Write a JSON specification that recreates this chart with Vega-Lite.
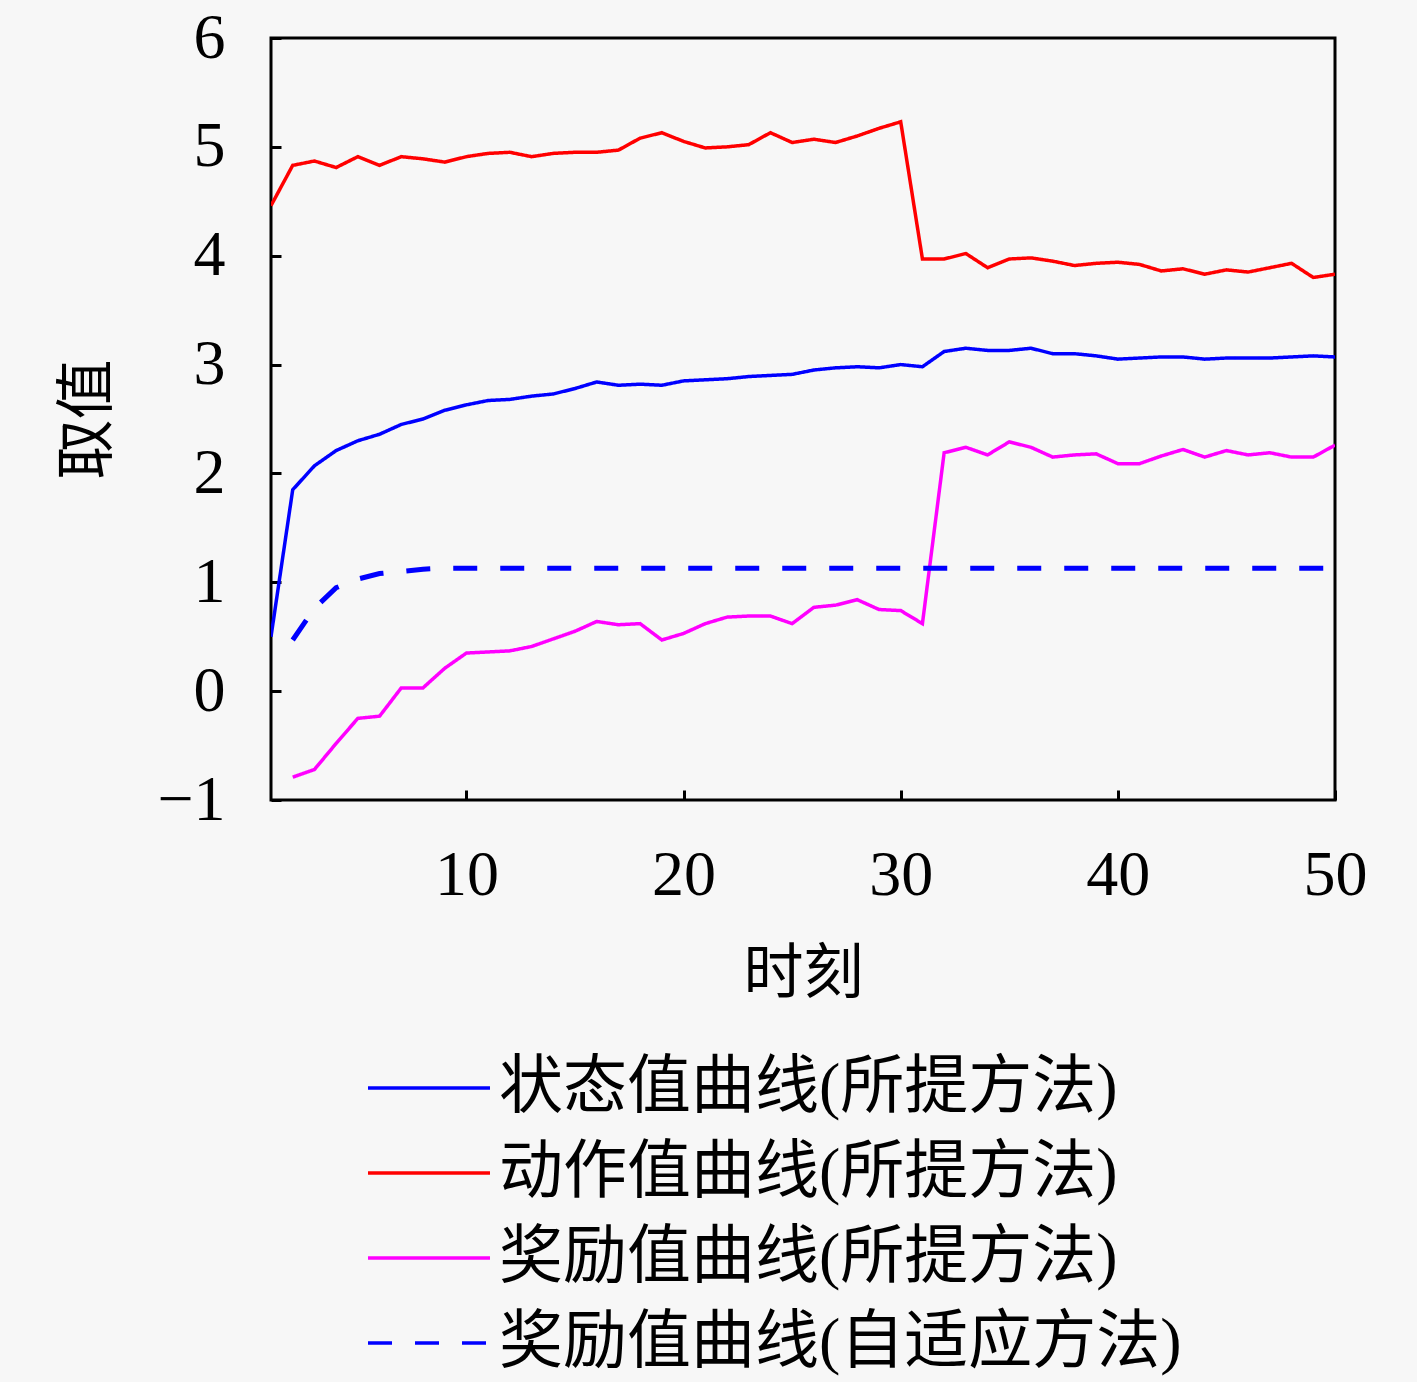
{
  "$schema": "https://vega.github.io/schema/vega-lite/v6.json",
  "width": 1064,
  "height": 762,
  "autosize": {"type": "none"},
  "padding": {"left": 271, "top": 38, "right": 82, "bottom": 582},
  "background": "#f7f7f7",
  "data": {
    "values": [
      {"t": 1, "state": 0.50, "action": 4.46, "reward": null, "adaptive": null},
      {"t": 2, "state": 1.85, "action": 4.83, "reward": -0.79, "adaptive": 0.47},
      {"t": 3, "state": 2.07, "action": 4.87, "reward": -0.72, "adaptive": 0.76},
      {"t": 4, "state": 2.21, "action": 4.81, "reward": -0.48, "adaptive": 0.95},
      {"t": 5, "state": 2.30, "action": 4.91, "reward": -0.25, "adaptive": 1.03},
      {"t": 6, "state": 2.36, "action": 4.83, "reward": -0.23, "adaptive": 1.08},
      {"t": 7, "state": 2.45, "action": 4.91, "reward": 0.03, "adaptive": 1.10},
      {"t": 8, "state": 2.50, "action": 4.89, "reward": 0.03, "adaptive": 1.12},
      {"t": 9, "state": 2.58, "action": 4.86, "reward": 0.21, "adaptive": 1.13},
      {"t": 10, "state": 2.63, "action": 4.91, "reward": 0.35, "adaptive": 1.13},
      {"t": 11, "state": 2.67, "action": 4.94, "reward": 0.36, "adaptive": 1.13},
      {"t": 12, "state": 2.68, "action": 4.95, "reward": 0.37, "adaptive": 1.13},
      {"t": 13, "state": 2.71, "action": 4.91, "reward": 0.41, "adaptive": 1.13},
      {"t": 14, "state": 2.73, "action": 4.94, "reward": 0.48, "adaptive": 1.13},
      {"t": 15, "state": 2.78, "action": 4.95, "reward": 0.55, "adaptive": 1.13},
      {"t": 16, "state": 2.84, "action": 4.95, "reward": 0.64, "adaptive": 1.13},
      {"t": 17, "state": 2.81, "action": 4.97, "reward": 0.61, "adaptive": 1.13},
      {"t": 18, "state": 2.82, "action": 5.08, "reward": 0.62, "adaptive": 1.13},
      {"t": 19, "state": 2.81, "action": 5.13, "reward": 0.47, "adaptive": 1.13},
      {"t": 20, "state": 2.85, "action": 5.05, "reward": 0.53, "adaptive": 1.13},
      {"t": 21, "state": 2.86, "action": 4.99, "reward": 0.62, "adaptive": 1.13},
      {"t": 22, "state": 2.87, "action": 5.00, "reward": 0.68, "adaptive": 1.13},
      {"t": 23, "state": 2.89, "action": 5.02, "reward": 0.69, "adaptive": 1.13},
      {"t": 24, "state": 2.90, "action": 5.13, "reward": 0.69, "adaptive": 1.13},
      {"t": 25, "state": 2.91, "action": 5.04, "reward": 0.62, "adaptive": 1.13},
      {"t": 26, "state": 2.95, "action": 5.07, "reward": 0.77, "adaptive": 1.13},
      {"t": 27, "state": 2.97, "action": 5.04, "reward": 0.79, "adaptive": 1.13},
      {"t": 28, "state": 2.98, "action": 5.10, "reward": 0.84, "adaptive": 1.13},
      {"t": 29, "state": 2.97, "action": 5.17, "reward": 0.75, "adaptive": 1.13},
      {"t": 30, "state": 3.00, "action": 5.23, "reward": 0.74, "adaptive": 1.13},
      {"t": 31, "state": 2.98, "action": 3.97, "reward": 0.62, "adaptive": 1.13},
      {"t": 32, "state": 3.12, "action": 3.97, "reward": 2.19, "adaptive": 1.13},
      {"t": 33, "state": 3.15, "action": 4.02, "reward": 2.24, "adaptive": 1.13},
      {"t": 34, "state": 3.13, "action": 3.89, "reward": 2.17, "adaptive": 1.13},
      {"t": 35, "state": 3.13, "action": 3.97, "reward": 2.29, "adaptive": 1.13},
      {"t": 36, "state": 3.15, "action": 3.98, "reward": 2.24, "adaptive": 1.13},
      {"t": 37, "state": 3.10, "action": 3.95, "reward": 2.15, "adaptive": 1.13},
      {"t": 38, "state": 3.10, "action": 3.91, "reward": 2.17, "adaptive": 1.13},
      {"t": 39, "state": 3.08, "action": 3.93, "reward": 2.18, "adaptive": 1.13},
      {"t": 40, "state": 3.05, "action": 3.94, "reward": 2.09, "adaptive": 1.13},
      {"t": 41, "state": 3.06, "action": 3.92, "reward": 2.09, "adaptive": 1.13},
      {"t": 42, "state": 3.07, "action": 3.86, "reward": 2.16, "adaptive": 1.13},
      {"t": 43, "state": 3.07, "action": 3.88, "reward": 2.22, "adaptive": 1.13},
      {"t": 44, "state": 3.05, "action": 3.83, "reward": 2.15, "adaptive": 1.13},
      {"t": 45, "state": 3.06, "action": 3.87, "reward": 2.21, "adaptive": 1.13},
      {"t": 46, "state": 3.06, "action": 3.85, "reward": 2.17, "adaptive": 1.13},
      {"t": 47, "state": 3.06, "action": 3.89, "reward": 2.19, "adaptive": 1.13},
      {"t": 48, "state": 3.07, "action": 3.93, "reward": 2.15, "adaptive": 1.13},
      {"t": 49, "state": 3.08, "action": 3.80, "reward": 2.15, "adaptive": 1.13},
      {"t": 50, "state": 3.07, "action": 3.83, "reward": 2.26, "adaptive": 1.13}
    ]
  },
  "transform": [
    {"fold": ["state", "action", "reward", "adaptive"], "as": ["series", "v"]},
    {"filter": "isValid(datum.v)"}
  ],
  "mark": {"type": "line", "clip": true},
  "encoding": {
    "x": {
      "field": "t",
      "type": "quantitative",
      "scale": {"domain": [1, 50], "nice": false},
      "axis": {
        "values": [10, 20, 30, 40, 50],
        "title": "时刻",
        "labelPadding": 53,
        "titlePadding": 38
      }
    },
    "y": {
      "field": "v",
      "type": "quantitative",
      "scale": {"domain": [-1, 6], "nice": false},
      "axis": {
        "values": [-1, 0, 1, 2, 3, 4, 5, 6],
        "title": "取值",
        "labelPadding": 56,
        "titlePadding": 37
      }
    },
    "color": {
      "field": "series",
      "type": "nominal",
      "scale": {
        "domain": ["state", "action", "reward", "adaptive"],
        "range": ["#0000ff", "#ff0000", "#ff00ff", "#0000ff"]
      },
      "legend": {
        "orient": "none",
        "legendX": 126,
        "legendY": 1018,
        "direction": "vertical",
        "title": null,
        "labelExpr": "{'state': '状态值曲线(所提方法)', 'action': '动作值曲线(所提方法)', 'reward': '奖励值曲线(所提方法)', 'adaptive': '奖励值曲线(自适应方法)'}[datum.label]"
      }
    },
    "strokeDash": {
      "field": "series",
      "type": "nominal",
      "scale": {
        "domain": ["state", "action", "reward", "adaptive"],
        "range": [[1, 0], [1, 0], [1, 0], [24, 23]]
      },
      "legend": {
        "orient": "none",
        "legendX": 126,
        "legendY": 1018,
        "direction": "vertical",
        "title": null,
        "labelExpr": "{'state': '状态值曲线(所提方法)', 'action': '动作值曲线(所提方法)', 'reward': '奖励值曲线(所提方法)', 'adaptive': '奖励值曲线(自适应方法)'}[datum.label]"
      }
    },
    "strokeWidth": {
      "condition": {"test": "datum.series === 'adaptive'", "value": 5},
      "value": 3.5
    }
  },
  "config": {
    "view": {"stroke": "#000000", "strokeWidth": 3},
    "axis": {
      "domain": false,
      "grid": false,
      "ticks": true,
      "tickSize": -10,
      "tickWidth": 3,
      "tickColor": "#000000",
      "labelFont": "Liberation Serif",
      "labelFontSize": 64,
      "labelColor": "#000000",
      "labelFlush": false,
      "labelOverlap": false,
      "titleFont": "Noto Sans CJK SC",
      "titleFontSize": 60,
      "titleFontWeight": "normal",
      "titleColor": "#000000"
    },
    "legend": {
      "symbolType": "M-4,0H4",
      "symbolSize": 930,
      "symbolStrokeWidth": 3.5,
      "labelFont": "Liberation Serif, Noto Sans CJK SC",
      "labelFontSize": 64,
      "labelColor": "#000000",
      "labelLimit": 1200,
      "labelOffset": 38,
      "rowPadding": 21,
      "padding": 0
    }
  }
}
